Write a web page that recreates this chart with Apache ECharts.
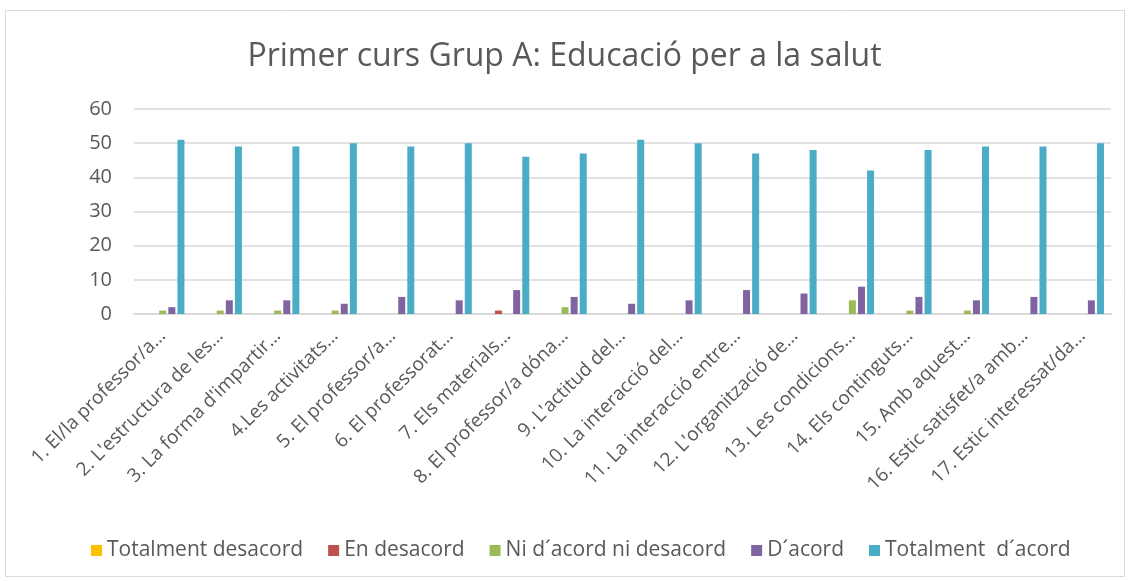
<!DOCTYPE html>
<html>
<head>
<meta charset="utf-8">
<script src="https://cdn.jsdelivr.net/npm/echarts@6/dist/echarts.min.js"></script>
<style>
  html, body { margin: 0; padding: 0; background: #fff; }
  #chart { width: 1129px; height: 581px; }
</style>
</head>
<body>
<div id="chart"></div>
<script>
// categories (truncated labels as shown on the chart)
const categories = [
  "1. El/la professor/a…", "2. L'estructura de les…", "3. La forma d'impartir…",
  "4.Les activitats…", "5. El professor/a…", "6. El professorat…",
  "7. Els materials…", "8. El professor/a dóna…", "9. L'actitud del…",
  "10. La interacció del…", "11. La interacció entre…", "12. L'organització de…",
  "13. Les condicions…", "14. Els continguts…", "15. Amb aquest…",
  "16. Estic satisfet/a amb…", "17. Estic interessat/da…"
];
const seriesNames = ["Totalment desacord", "En desacord", "Ni d´acord ni desacord", "D´acord", "Totalment  d´acord"];
const totalDesacord  = [0, 0, 0, 0, 0, 0, 0, 0, 0, 0, 0, 0, 0, 0, 0, 0, 0];
const enDesacord     = [0, 0, 0, 0, 0, 0, 1, 0, 0, 0, 0, 0, 0, 0, 0, 0, 0];
const niAcord        = [1, 1, 1, 1, 0, 0, 0, 2, 0, 0, 0, 0, 4, 1, 1, 0, 0];
const dAcord         = [2, 4, 4, 3, 5, 4, 7, 5, 3, 4, 7, 6, 8, 5, 4, 5, 4];
const totalAcord     = [51, 49, 49, 50, 49, 50, 46, 47, 51, 50, 47, 48, 42, 48, 49, 49, 50];
const yTicks = [0, 10, 20, 30, 40, 50, 60];

const colors = ['#ffc000', '#c0504d', '#9bbb59', '#8064a2', '#4bacc6'];
const values = [totalDesacord, enDesacord, niAcord, dAcord, totalAcord];

const chart = echarts.init(document.getElementById('chart'));
const font = "'Open Sans', 'Noto Sans', sans-serif";

const option = {
  animation: false,
  color: colors,
  title: {
    text: 'Primer curs Grup A: Educació per a la salut',
    left: 'center',
    top: 36,
    textStyle: { fontFamily: font, fontSize: 32, fontWeight: 'normal', color: '#595959' }
  },
  graphic: [{
    type: 'rect',
    shape: { x: 5.5, y: 10.5, width: 1119, height: 566 },
    style: { fill: 'none', stroke: '#d9d9d9', lineWidth: 1 },
    silent: true
  }],
  legend: {
    bottom: 15,
    left: 86,
    itemWidth: 11,
    itemHeight: 11,
    itemGap: 25,
    icon: 'rect',
    textStyle: { fontFamily: font, fontSize: 21, color: '#595959' },
    data: seriesNames
  },
  grid: { left: 134, right: 18, top: 109, bottom: 267, containLabel: false },
  xAxis: {
    type: 'category',
    data: categories,
    axisLine: { lineStyle: { color: '#d9d9d9', width: 2 } },
    axisTick: { show: false },
    axisLabel: {
      interval: 0,
      rotate: 45,
      margin: 19,
      fontFamily: font,
      fontSize: 19,
      color: '#595959'
    }
  },
  yAxis: {
    type: 'value',
    min: yTicks[0],
    max: yTicks[yTicks.length - 1],
    interval: 10,
    axisLine: { show: false },
    axisTick: { show: false },
    splitLine: { lineStyle: { color: '#d9d9d9', width: 1.5 } },
    axisLabel: { fontFamily: font, fontSize: 20, color: '#595959', margin: 22 }
  },
  series: seriesNames.map((name, i) => ({
    name: name,
    type: 'bar',
    data: values[i],
    barWidth: 7,
    barGap: '30%',
    itemStyle: { color: colors[i] }
  }))
};
chart.setOption(option);
</script>
</body>
</html>
